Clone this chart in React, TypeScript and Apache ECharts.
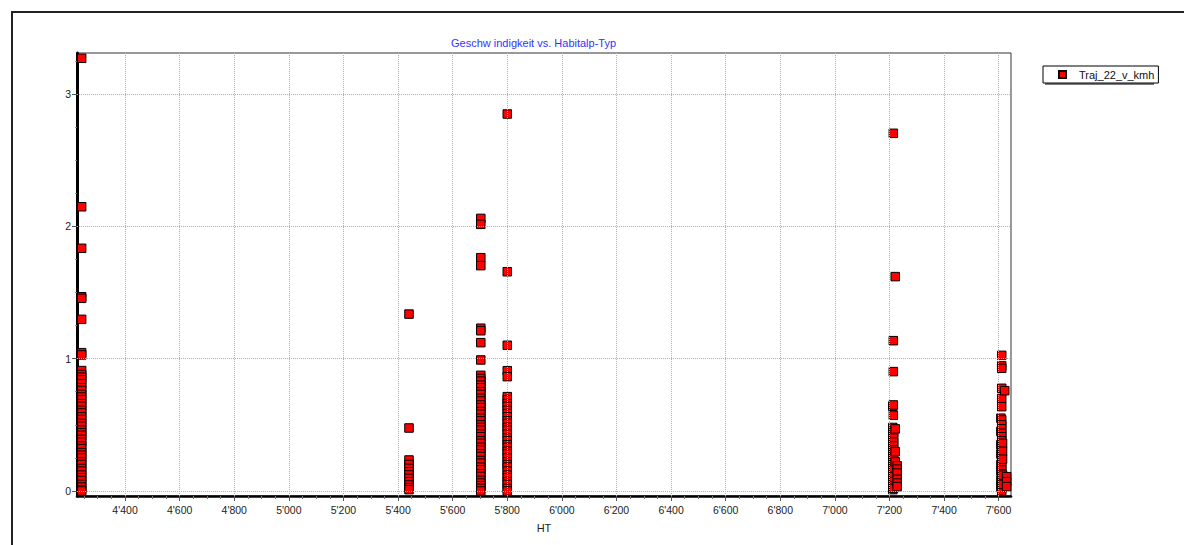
import React, { useEffect, useRef } from "react";
import * as echarts from "echarts";

const seriesName = "Traj_22_v_kmh";
const chartTitle = "Geschw indigkeit vs. Habitalp-Typ";
const xAxisName = "HT";

const xMin = 4224;
const xMax = 7645;
const yMin = -0.038;
const yMax = 3.31;

const xMajorTicks = [4400, 4600, 4800, 5000, 5200, 5400, 5600, 5800, 6000, 6200, 6400, 6600, 6800, 7000, 7200, 7400, 7600];
const yMajorTicks = [0, 1, 2, 3];

// cluster HT 4241
const ht4241 = [3.27, 2.148, 1.834, 1.468, 1.456, 1.297, 1.045, 1.028, 0.91, 0.88, 0.86, 0.84, 0.81, 0.78, 0.76, 0.73, 0.71, 0.69, 0.66, 0.64, 0.61, 0.59, 0.56, 0.54, 0.51, 0.49, 0.46, 0.44, 0.42, 0.39, 0.37, 0.34, 0.32, 0.29, 0.27, 0.25, 0.22, 0.2, 0.17, 0.15, 0.12, 0.1, 0.08, 0.05, 0.03, 0.01, 0.0];
// cluster HT 5440
const ht5440 = [1.337, 0.476, 0.234, 0.2, 0.171, 0.145, 0.121, 0.095, 0.07, 0.045, 0.025, 0.01];
// cluster HT 5703
const ht5703 = [2.06, 2.015, 1.763, 1.703, 1.23, 1.211, 1.121, 0.99, 0.874, 0.85, 0.83, 0.8, 0.78, 0.75, 0.73, 0.7, 0.68, 0.65, 0.63, 0.6, 0.58, 0.55, 0.53, 0.5, 0.48, 0.46, 0.43, 0.41, 0.38, 0.36, 0.33, 0.31, 0.28, 0.26, 0.23, 0.21, 0.18, 0.16, 0.13, 0.11, 0.08, 0.06, 0.04, 0.02, 0.0];
// cluster HT 5800
const ht5800 = [2.849, 1.657, 1.101, 0.909, 0.864, 0.713, 0.69, 0.66, 0.64, 0.61, 0.585, 0.56, 0.53, 0.51, 0.48, 0.46, 0.43, 0.4, 0.38, 0.35, 0.33, 0.3, 0.28, 0.25, 0.22, 0.2, 0.18, 0.15, 0.12, 0.1, 0.07, 0.05, 0.02, 0.0];
// cluster around HT 7212-7228
const ht7212 = [0.64, 0.48, 0.45, 0.42, 0.39, 0.36, 0.33, 0.3, 0.27, 0.24, 0.21, 0.18, 0.15, 0.12, 0.09, 0.06, 0.03, 0.01];
const ht7214 = [2.703, 1.136, 0.902, 0.65, 0.572];
const ht7215 = [0.44, 0.4, 0.37, 0.34, 0.31, 0.25, 0.2, 0.16, 0.11, 0.07, 0.04, 0.02];
const ht7221 = [1.62, 0.469, 0.297, 0.22];
const ht7228 = [0.19, 0.165, 0.135, 0.088, 0.06, 0.033];
// cluster around HT 7608-7629
const ht7608 = [0.55, 0.45, 0.35, 0.28, 0.2, 0.15, 0.08, 0.03];
const ht7611 = [1.025, 0.945, 0.927, 0.776, 0.7, 0.637, 0.537, 0.5, 0.47, 0.436, 0.41, 0.38, 0.342, 0.31, 0.277, 0.25, 0.217, 0.19, 0.159, 0.13, 0.1, 0.07, 0.04, 0.02, 0.0];
const ht7614 = [0.36, 0.3, 0.24, 0.12, 0.05];
const ht7622 = [0.758];
const ht7629 = [0.108, 0.07, 0.033];

const clusters: [number, number[]][] = [
  [4241, ht4241],
  [5440, ht5440],
  [5703, ht5703],
  [5800, ht5800],
  [7212, ht7212],
  [7214, ht7214],
  [7215, ht7215],
  [7221, ht7221],
  [7228, ht7228],
  [7608, ht7608],
  [7611, ht7611],
  [7614, ht7614],
  [7622, ht7622],
  [7629, ht7629],
];

const FONT = "'Liberation Sans', Arial, sans-serif";

function fmtThousands(v: number): string {
  const k = Math.floor(v / 1000);
  const r = Math.round(v - k * 1000);
  return `${k}'${String(r).padStart(3, "0")}`;
}

export default function App() {
  const ref = useRef<HTMLDivElement>(null);

  useEffect(() => {
    if (!ref.current) return;
    const chart = echarts.init(ref.current, undefined, { renderer: "svg" });

    const data: [number, number][] = [];
    clusters.forEach(([x, ys]) => ys.forEach((y) => data.push([x, y])));

    const xMinorTicks: number[] = [];
    for (let v = 4250; v <= 7600; v += 50) if (v % 200 !== 0) xMinorTicks.push(v);
    const yMinorTicks: number[] = [];
    for (let v = 0.25; v <= 3.3; v += 0.25) if (Math.abs(v - Math.round(v)) > 1e-6) yMinorTicks.push(Math.round(v * 100) / 100);

    const option: any = {
      animation: false,
      backgroundColor: "#ffffff",
      textStyle: { fontFamily: FONT },
      title: {
        text: chartTitle,
        left: 451,
        top: 37,
        padding: 0,
        textStyle: { fontSize: 11, fontWeight: "normal", color: "#3333ff", fontFamily: FONT },
      },
      legend: {
        data: [seriesName],
        left: 1043,
        top: 66,
        orient: "vertical",
        backgroundColor: "#ffffff",
        borderColor: "#000000",
        borderWidth: 1,
        borderRadius: 0,
        padding: [2, 4, 2, 15],
        itemWidth: 7,
        itemHeight: 7,
        icon: "rect",
        selectedMode: false,
        textStyle: { fontSize: 11, color: "#111", fontFamily: FONT, lineHeight: 13, padding: [0, 0, 0, 8] },
      },
      graphic: [
        {
          type: "rect",
          z: 0,
          silent: true,
          shape: { x: 1045, y: 68, width: 109, height: 17 },
          style: { fill: "#7a7a7a" },
        },
        {
          type: "rect",
          z: 0,
          silent: true,
          shape: { x: 12, y: 12, width: 1400, height: 800 },
          style: { fill: "none", stroke: "#222", lineWidth: 2 },
        },
      ],
      grid: {
        left: 77,
        top: 53,
        right: 173,
        bottom: 49,
        show: true,
        borderColor: "#333",
        borderWidth: 1,
        outerBoundsMode: "none",
      },
      xAxis: [
        {
          type: "value",
          min: xMin,
          max: xMax,
          position: "bottom",
          name: xAxisName,
          nameLocation: "middle",
          nameGap: 26,
          nameTextStyle: { fontSize: 11, color: "#222", fontFamily: FONT },
          axisLine: { show: true, onZero: false, lineStyle: { color: "#000", width: 2.5 } },
          axisTick: { show: true, length: 5, customValues: xMajorTicks, lineStyle: { color: "#555", width: 1 } },
          axisLabel: { customValues: xMajorTicks, formatter: (v: number) => fmtThousands(v), margin: 8, fontSize: 10.5, color: "#222", fontFamily: FONT },
          splitLine: { show: false },
        },
        {
          type: "value",
          min: xMin,
          max: xMax,
          position: "bottom",
          axisLine: { show: false, onZero: false },
          axisTick: { show: true, length: 3, customValues: xMinorTicks, lineStyle: { color: "#777", width: 1 } },
          axisLabel: { show: false },
          splitLine: { show: false },
        },
      ],
      yAxis: [
        {
          type: "value",
          min: yMin,
          max: yMax,
          position: "left",
          axisLine: { show: true, onZero: false, lineStyle: { color: "#000", width: 3 } },
          axisTick: { show: true, length: 5, customValues: yMajorTicks, lineStyle: { color: "#555", width: 1 } },
          axisLabel: { customValues: yMajorTicks, margin: 6, fontSize: 10.5, color: "#222", fontFamily: FONT },
          splitLine: { show: false },
        },
        {
          type: "value",
          min: yMin,
          max: yMax,
          position: "left",
          axisLine: { show: false, onZero: false },
          axisTick: { show: true, length: 2, customValues: yMinorTicks, lineStyle: { color: "#888", width: 1 } },
          axisLabel: { show: false },
          splitLine: { show: false },
        },
      ],
      series: [
        {
          type: "scatter",
          name: "grid",
          data: [],
          xAxisIndex: 0,
          yAxisIndex: 0,
          z: 1,
          silent: true,
          markLine: {
            silent: true,
            animation: false,
            symbol: ["none", "none"],
            label: { show: false },
            emphasis: { disabled: true },
            lineStyle: { color: "#b0b0b0", type: [1, 1], width: 1 },
            data: [
              ...xMajorTicks.map((v) => ({ xAxis: v })),
              ...yMajorTicks.map((v) => ({ yAxis: v })),
            ],
          },
        },
        {
          type: "scatter",
          name: seriesName,
          data,
          xAxisIndex: 0,
          yAxisIndex: 0,
          z: 3,
          symbol: "rect",
          symbolSize: 8.5,
          itemStyle: { color: "#ff0000", borderColor: "#000000", borderWidth: 1, opacity: 1 },
        },
      ],
    };

    chart.setOption(option);
    return () => chart.dispose();
  }, []);

  return <div ref={ref} style={{ position: "fixed", left: 0, top: 0, width: 1184, height: 545 }} />;
}
